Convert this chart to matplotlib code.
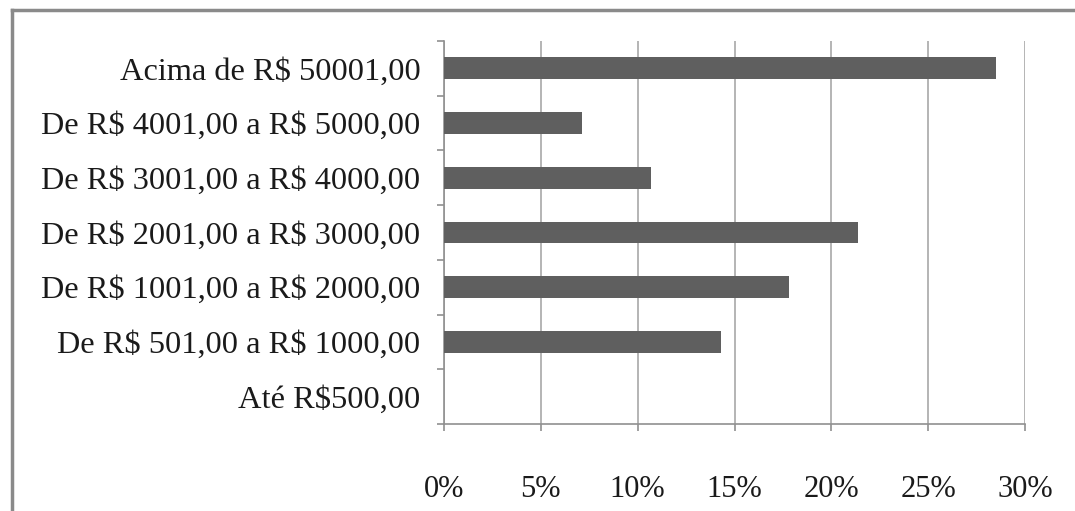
import matplotlib
matplotlib.use("Agg")
import matplotlib.pyplot as plt
from matplotlib.lines import Line2D
import numpy as np

categories = ["Até R$500,00", "De R$ 501,00 a R$ 1000,00", "De R$ 1001,00 a R$ 2000,00",
              "De R$ 2001,00 a R$ 3000,00", "De R$ 3001,00 a R$ 4000,00",
              "De R$ 4001,00 a R$ 5000,00", "Acima de R$ 50001,00"]
values = [0.0, 14.3, 17.8, 21.4, 10.7, 7.1, 28.5]
xticks = [0, 5, 10, 15, 20, 25, 30]
xtick_labels = ["0%", "5%", "10%", "15%", "20%", "25%", "30%"]

plt.rcParams['font.family'] = ['Liberation Serif', 'DejaVu Serif']
plt.rcParams['text.parse_math'] = False

fig = plt.figure(figsize=(10.75, 5.11), dpi=100)
ax = fig.add_axes([444/1075, 1-424/511, (1025-444)/1075, (424-41)/511])

y = np.arange(len(categories))
ax.barh(y, values, height=0.4, color="#5f5f5f", zorder=3)
ax.set_ylim(-0.5, len(categories)-0.5)
ax.set_xlim(0, 30)
ax.set_xticks(xticks)
ax.set_xticklabels(xtick_labels, fontsize=22, color="#1a1a1a")
ax.set_yticks(y)
ax.set_yticklabels(categories, fontsize=23.3, color="#1a1a1a")
ax.tick_params(axis='y', length=0, pad=17)
ax.set_yticks(np.arange(-0.5, len(categories), 1), minor=True)
ax.tick_params(axis='y', which='minor', length=5, color="#909090", width=1.2)
ax.tick_params(axis='x', length=5, color="#909090", width=1.2, pad=32)
ax.grid(axis='x', color="#a8a8a8", linewidth=1.2, zorder=0)
for s in ['top', 'right']:
    ax.spines[s].set_visible(False)
for s in ['left', 'bottom']:
    ax.spines[s].set_color("#909090")
    ax.spines[s].set_linewidth(1.2)

# outer chart border (left and top edges visible)
fig.add_artist(Line2D([12/1075, 12/1075], [0, 1-10/511], transform=fig.transFigure,
                      color="#8a8a8a", linewidth=2.5))
fig.add_artist(Line2D([12/1075, 1], [1-10/511, 1-10/511], transform=fig.transFigure,
                      color="#8a8a8a", linewidth=2.5))

fig.savefig("out.png", dpi=100)
